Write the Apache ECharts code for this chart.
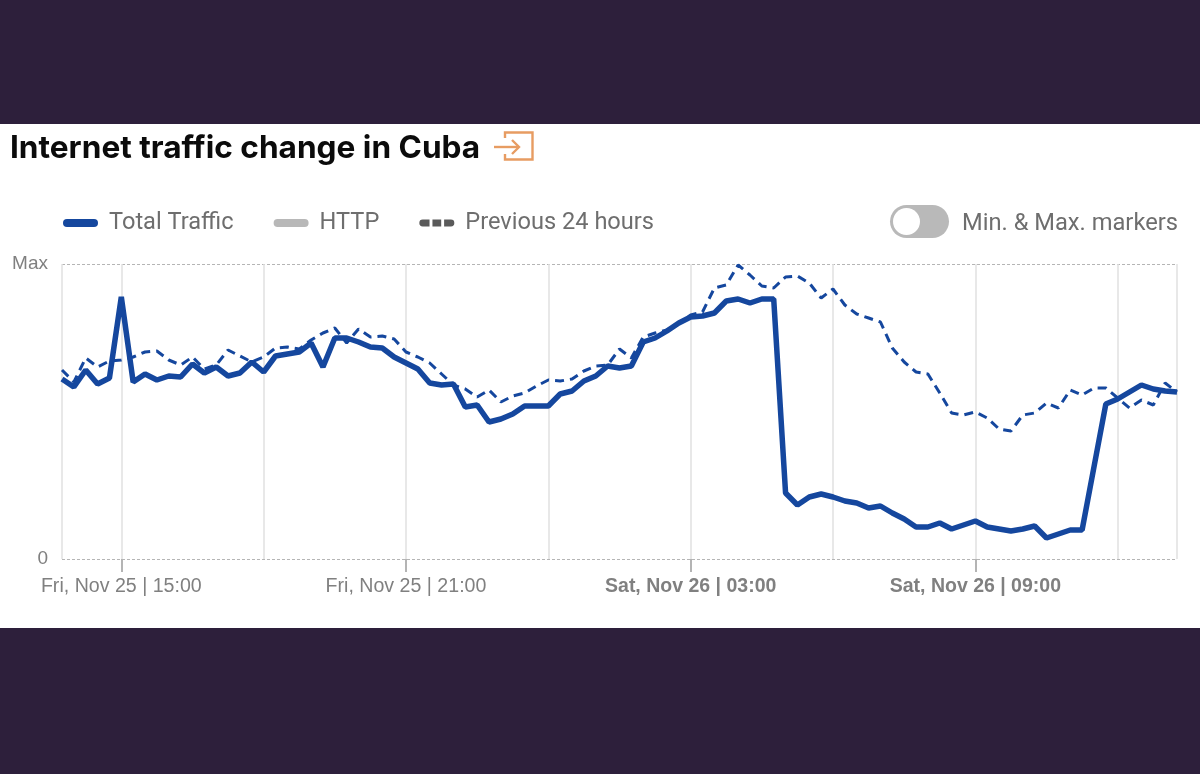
<!DOCTYPE html>
<html>
<head>
<meta charset="utf-8">
<style>html,body{margin:0;padding:0;background:#2d1f3b}#c{width:1200px;height:774px}</style>
<script src="https://cdn.jsdelivr.net/npm/echarts@6/dist/echarts.min.js"></script>
</head>
<body>
<div id="c"></div>
<script>
const titleText = 'Internet traffic change in Cuba';
const seriesNames = ['Total Traffic', 'HTTP', 'Previous 24 hours'];
const toggleText = 'Min. & Max. markers';
const times = [
 'F13:45','F14:00','F14:15','F14:30','F14:45','F15:00','F15:15','F15:30','F15:45','F16:00',
 'F16:15','F16:30','F16:45','F17:00','F17:15','F17:30','F17:45','F18:00','F18:15','F18:30',
 'F18:45','F19:00','F19:15','F19:30','F19:45','F20:00','F20:15','F20:30','F20:45','F21:00',
 'F21:15','F21:30','F21:45','F22:00','F22:15','F22:30','F22:45','F23:00','F23:15','F23:30',
 'F23:45','S00:00','S00:15','S00:30','S00:45','S01:00','S01:15','S01:30','S01:45','S02:00',
 'S02:15','S02:30','S02:45','S03:00','S03:15','S03:30','S03:45','S04:00','S04:15','S04:30',
 'S04:45','S05:00','S05:15','S05:30','S05:45','S06:00','S06:15','S06:30','S06:45','S07:00',
 'S07:15','S07:30','S07:45','S08:00','S08:15','S08:30','S08:45','S09:00','S09:15','S09:30',
 'S09:45','S10:00','S10:15','S10:30','S10:45','S11:00','S11:15','S11:30','S11:45','S12:00',
 'S12:15','S12:30','S12:45','S13:00','S13:15'];
const totalTraffic = [
 180,172,189,175,181,262,177,185,179,183,
 182,195,186,192,183,186,197,187,203,205,
 207,216,192,221,221,217,212,211,202,196,
 190,176,174,175,152,154,137,140,145,153,
 153,153,165,168,178,183,193,191,193,217,
 221,228,236,242,243,246,258,260,256,260,
 260,66,54,62,65,62,58,56,51,53,
 46,40,32,32,36,30,34,38,32,30,
 28,30,33,21,25,29,29,92,155,160,
 167,174,170,168,167];
const previous24h = [
 189,177,201,192,198,199,202,207,208,199,
 194,202,190,194,209,203,197,202,211,212,
 210,219,226,231,216,230,222,223,220,207,
 202,196,185,174,170,162,169,157,163,166,
 173,179,178,180,188,193,194,210,201,222,
 226,229,236,244,247,271,274,294,284,273,
 271,282,283,276,261,270,254,245,241,237,
 211,197,187,185,166,146,144,147,141,130,
 128,144,146,156,151,169,164,171,171,161,
 151,159,154,176,167];
const httpTraffic = [];
const tickLabels = {
 'F15:00': 'Fri, Nov 25 | 15:00',
 'F21:00': 'Fri, Nov 25 | 21:00',
 'S03:00': 'Sat, Nov 26 | 03:00',
 'S09:00': 'Sat, Nov 26 | 09:00'
};
const gridTimes = ['F13:45','F15:00','F18:00','F21:00','S00:00','S03:00','S06:00','S09:00','S12:00','S13:15'];
const yMax = 295;

const chart = echarts.init(document.getElementById('c'), null, {renderer:'canvas'});
const BLUE = '#15479e', ORANGE = '#e79c62', UI = 'Roboto, Inter, sans-serif', AX = '"Liberation Sans", Arial, sans-serif';
const PILL = 'path://M4 0H31A4 4 0 0 1 31 8H4A4 4 0 0 1 4 0Z';
chart.setOption({
 animation: false,
 backgroundColor: '#2d1f3b',
 title: {
  text: titleText, left: 5, top: 127,
  textStyle: {fontFamily: 'Inter, Roboto, sans-serif', fontSize: 31.6, fontWeight: 700, color: '#0b0b0b'}
 },
 legend: {
  left: 63, top: 211, padding: 0, itemGap: 40, itemWidth: 35, itemHeight: 8,
  textStyle: {fontFamily: UI, fontSize: 23.6, color: '#6e6e6e', padding: [3,0,0,6]},
  selectedMode: false,
  data: [
   {name: seriesNames[0], icon: PILL, itemStyle: {color: BLUE}},
   {name: seriesNames[1], icon: PILL, itemStyle: {color: '#b8b8b8'}},
   {name: seriesNames[2], itemStyle: {color: '#5a5a5a'},
    icon: 'path://M3 0H10V7H3A3 3 0 0 1 3 0ZM13 0H22V7H13ZM25 0H32A3 3 0 0 1 32 7H25Z'}
  ]
 },
 grid: {left: 62, right: 23, top: 264, bottom: 215, containLabel: false},
 xAxis: {
  type: 'category', data: times, boundaryGap: false,
  axisLine: {show: false},
  axisTick: {show: true, length: 13, lineStyle: {color: '#b4b4b4', width: 2},
   interval: (i, v) => v in tickLabels},
  axisLabel: {
   show: true, margin: 18, interval: (i, v) => v in tickLabels,
   formatter: v => v[0] === 'S' ? '{b|' + tickLabels[v] + '}' : '{n|' + tickLabels[v] + '}',
   rich: {
    n: {fontFamily: AX, fontSize: 19.6, color: '#808080'},
    b: {fontFamily: AX, fontSize: 19.5, fontWeight: 700, color: '#808080'}
   }
  },
  splitLine: {show: true, interval: (i, v) => gridTimes.includes(v),
   lineStyle: {color: '#e0e0e0', width: 1.5}}
 },
 yAxis: {
  type: 'value', min: 0, max: yMax, interval: yMax,
  axisLine: {show: false}, axisTick: {show: false},
  axisLabel: {margin: 14, fontFamily: AX, fontSize: 19, color: '#808080', padding: [0,0,3,0],
   formatter: v => v === 0 ? '0' : 'Max'},
  splitLine: {show: true, lineStyle: {color: '#b5b5b5', type: [3,2], width: 1}}
 },
 series: [
  {name: seriesNames[2], type: 'line', data: previous24h, symbol: 'none', z: 2,
   lineStyle: {color: BLUE, width: 3, type: [9,6]}, itemStyle: {color: BLUE}},
  {name: seriesNames[1], type: 'line', data: httpTraffic, symbol: 'none', z: 3,
   lineStyle: {color: '#b8b8b8', width: 5}, itemStyle: {color: '#b8b8b8'}},
  {name: seriesNames[0], type: 'line', data: totalTraffic, symbol: 'none', z: 4,
   lineStyle: {color: BLUE, width: 5.5, join: 'bevel'}, itemStyle: {color: BLUE}}
 ],
 graphic: [
  {type: 'rect', z: -10, silent: true, shape: {x: 0, y: 124, width: 1200, height: 504}, style: {fill: '#ffffff'}},
  {type: 'polyline', z: 5, silent: true, shape: {points: [[505,138],[505,132.5],[532.5,132.5],[532.5,159.5],[505,159.5],[505,154]]},
   style: {stroke: ORANGE, lineWidth: 2.4, fill: null}},
  {type: 'line', z: 5, silent: true, shape: {x1: 494, y1: 147, x2: 519, y2: 147}, style: {stroke: ORANGE, lineWidth: 2.4}},
  {type: 'polyline', z: 5, silent: true, shape: {points: [[512,140],[519,147],[512,154]]}, style: {stroke: ORANGE, lineWidth: 2.4, fill: null}},
  {type: 'rect', z: 5, silent: true, shape: {x: 890, y: 205, width: 59, height: 33, r: 16.5}, style: {fill: '#b9b9b9'}},
  {type: 'circle', z: 6, silent: true, shape: {cx: 906.5, cy: 221.5, r: 13.5}, style: {fill: '#ffffff'}},
  {type: 'text', z: 5, silent: true, x: 962, y: 212, style: {text: toggleText, fontFamily: UI, fontSize: 23.7, fill: '#6e6e6e', verticalAlign: 'top'}}
 ]
});
</script>
</body>
</html>
